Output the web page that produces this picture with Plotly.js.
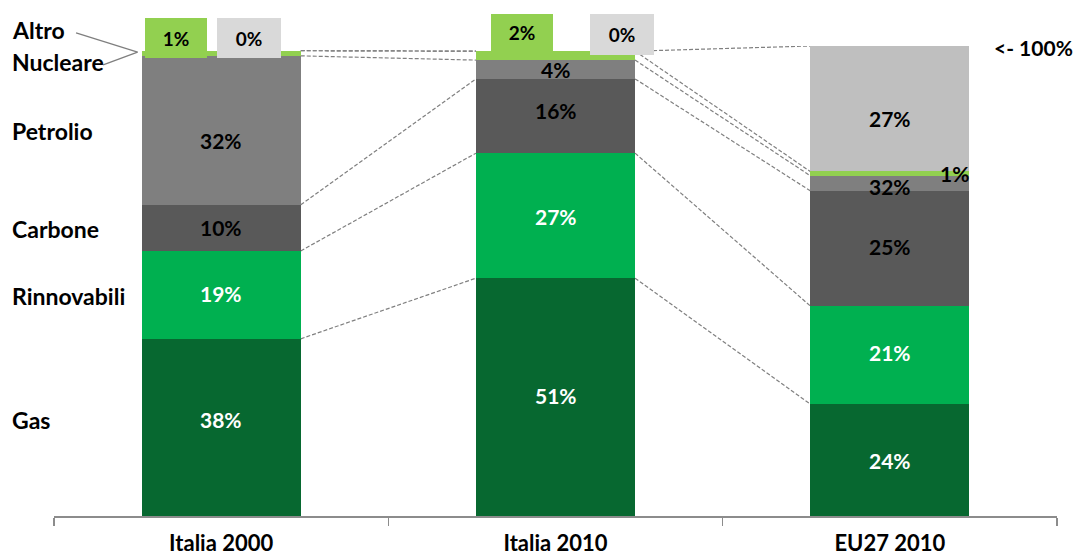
<!DOCTYPE html>
<html>
<head>
<meta charset="utf-8">
<script src="https://cdn.plot.ly/plotly-3.0.1.min.js"></script>
<style>html,body{margin:0;padding:0;background:#fff;}#chart{width:1073px;height:559px;}</style>
</head>
<body>
<div id="chart"></div>
<script>
// ---- data ----
var categories = ['Italia 2000', 'Italia 2010', 'EU27 2010'];
var seriesNames = ['Gas', 'Rinnovabili', 'Carbone', 'Petrolio', 'Altro', 'Nucleare'];
var gas         = [37.7, 50.6, 23.8];
var rinnovabili = [18.7, 26.6, 20.9];
var carbone     = [9.8, 15.8, 24.5];
var petrolio    = [31.7, 4.0, 3.2];
var altro       = [1.1, 1.9, 0.9];
var nucleare    = [0.0, 0.0, 26.7];
// labels as printed in the reference
var gasLabels   = ['38%', '51%', '24%'];
var rinnLabels  = ['19%', '27%', '21%'];
var carbLabels  = ['10%', '16%', '25%'];
var petrLabels  = ['32%', '4%', '32%'];
var altroLabels = ['1%', '2%', '1%'];
var nuclLabels  = ['0%', '0%', '27%'];

// ---- style ----
var FONT = 'Lato, "Open Sans", sans-serif';
var colors = ['#076830', '#00B050', '#595959', '#7F7F7F', '#92D050', '#BFBFBF'];
var textColors = ['#ffffff', '#ffffff', '#000000', '#000000', '#000000', '#000000'];
var BAR_W = 0.476;

var values = [gas, rinnovabili, carbone, petrolio, altro, nucleare];
// labels drawn inside segments (altro handled by callouts, nucleare only where visible)
var inLabels = [
  gasLabels, rinnLabels, carbLabels, petrLabels,
  altroLabels.map(function () { return ''; }),
  nuclLabels.map(function (t, i) { return nucleare[i] > 5 ? t : ''; })
];
// vertical nudges (pixels, up = positive) matching the reference label placement
var labelNudge = [
  [8, 2, 0],
  [1, -1, 3],
  [0, 6, 2],
  [-10, 0, -3],
  [0, 0, 0],
  [0, 0, -10]
];

var traces = values.map(function (v, k) {
  return {
    type: 'bar', name: seriesNames[k], x: categories, y: v,
    width: BAR_W,
    marker: {color: colors[k], line: {width: 0}},
    hoverinfo: 'none'
  };
});

// cumulative bases / tops
var bases = [], tops = [];
var run = categories.map(function () { return 0; });
values.forEach(function (v) {
  bases.push(run.slice());
  run = run.map(function (r, i) { return r + v[i]; });
  tops.push(run.slice());
});

var shapes = [];
tops.forEach(function (t) {
  for (var i = 0; i < categories.length - 1; i++) {
    shapes.push({
      type: 'line', xref: 'x', yref: 'y', layer: 'below',
      x0: i + BAR_W / 2, y0: t[i], x1: i + 1 - BAR_W / 2, y1: t[i + 1],
      line: {color: '#808080', width: 1.2, dash: '4px,2px'}
    });
  }
});
// leader lines from "Altro" / "Nucleare" to the first bar
var leaderEnd = {x: -BAR_W / 2 - 0.012, y: tops[4][0] - 0.3};
shapes.push({type: 'line', xref: 'paper', yref: 'paper', x0: 0.022, y0: 1.028,
  x1: (leaderEnd.x + 0.5) / 3, y1: leaderEnd.y / 100, line: {color: '#7f7f7f', width: 1.3}});
shapes.push({type: 'line', xref: 'paper', yref: 'paper', x0: 0.049, y0: 0.960,
  x1: (leaderEnd.x + 0.5) / 3, y1: leaderEnd.y / 100, line: {color: '#7f7f7f', width: 1.3}});

var annotations = [];
// segment value labels
inLabels.forEach(function (arr, k) {
  arr.forEach(function (t, i) {
    if (!t) return;
    annotations.push({xref: 'x', yref: 'y', x: i, y: bases[k][i] + values[k][i] / 2,
      xanchor: 'center', yanchor: 'middle', yshift: labelNudge[k][i],
      text: t, showarrow: false,
      font: {family: FONT, size: 21, color: textColors[k], weight: 700}});
  });
});
// left series labels
var labelFont = {family: FONT, size: 23, color: '#000', weight: 700};
var leftLabels = [
  {t: 'Altro', y: 1.034}, {t: 'Nucleare', y: 0.966}, {t: 'Petrolio', y: 0.819},
  {t: 'Carbone', y: 0.611}, {t: 'Rinnovabili', y: 0.468}, {t: 'Gas', y: 0.204}
];
leftLabels.forEach(function (l) {
  annotations.push({xref: 'paper', yref: 'paper', x: -0.044, y: l.y, xanchor: 'left', yanchor: 'middle',
    text: l.t, showarrow: false, font: labelFont});
});
// callout boxes for small Altro / Nucleare shares in Italia bars
var boxFont = {family: FONT, size: 19, color: '#000', weight: 700};
var boxes = [
  {x: -0.135, y: 1.017,  w: 62, h: 40, t: altroLabels[0], c: colors[4]},
  {x: 0.083,  y: 1.017,  w: 64, h: 40, t: nuclLabels[0], c: '#D9D9D9'},
  {x: 0.900,  y: 1.0287, w: 62, h: 37, t: altroLabels[1], c: colors[4]},
  {x: 1.199,  y: 1.0245, w: 64, h: 41, t: nuclLabels[1], c: '#D9D9D9'}
];
boxes.forEach(function (b) {
  annotations.push({xref: 'x', yref: 'paper', x: b.x, y: b.y, xanchor: 'center', yanchor: 'middle',
    text: b.t, showarrow: false, bgcolor: b.c, width: b.w, height: b.h, borderpad: 0, borderwidth: 0,
    font: boxFont});
});
// EU27 altro label beside the thin segment
annotations.push({xref: 'x', yref: 'y', x: 2 + BAR_W / 2 + 0.006, y: bases[4][2] + altro[2] / 2,
  xanchor: 'right', yanchor: 'middle', text: altroLabels[2], showarrow: false,
  font: {family: FONT, size: 21, color: '#000', weight: 700}});
// "<- 100%" marker
annotations.push({xref: 'paper', yref: 'paper', x: 0.935, y: 0.997, xanchor: 'left', yanchor: 'middle',
  text: '<- 100%', showarrow: false, font: {family: FONT, size: 21, color: '#000', weight: 700}});

var layout = {
  width: 1073, height: 559,
  margin: {l: 54, r: 16, t: 46, b: 43, pad: 0},
  paper_bgcolor: '#fff', plot_bgcolor: '#fff',
  barmode: 'stack', showlegend: false,
  xaxis: {
    type: 'category', range: [-0.5, 2.5], fixedrange: true,
    showline: true, linecolor: '#8c8c8c', linewidth: 1.5,
    ticks: 'outside', tickson: 'boundaries', ticklen: 8, tickcolor: '#8c8c8c', tickwidth: 1.5,
    ticklabelstandoff: 7,
    tickfont: {family: FONT, size: 22, color: '#000', weight: 700},
    showgrid: false, zeroline: false
  },
  yaxis: {range: [0, 100], visible: false, showgrid: false, zeroline: false, fixedrange: true},
  shapes: shapes,
  annotations: annotations
};

Plotly.newPlot('chart', traces, layout, {displayModeBar: false, staticPlot: true});
</script>
</body>
</html>
